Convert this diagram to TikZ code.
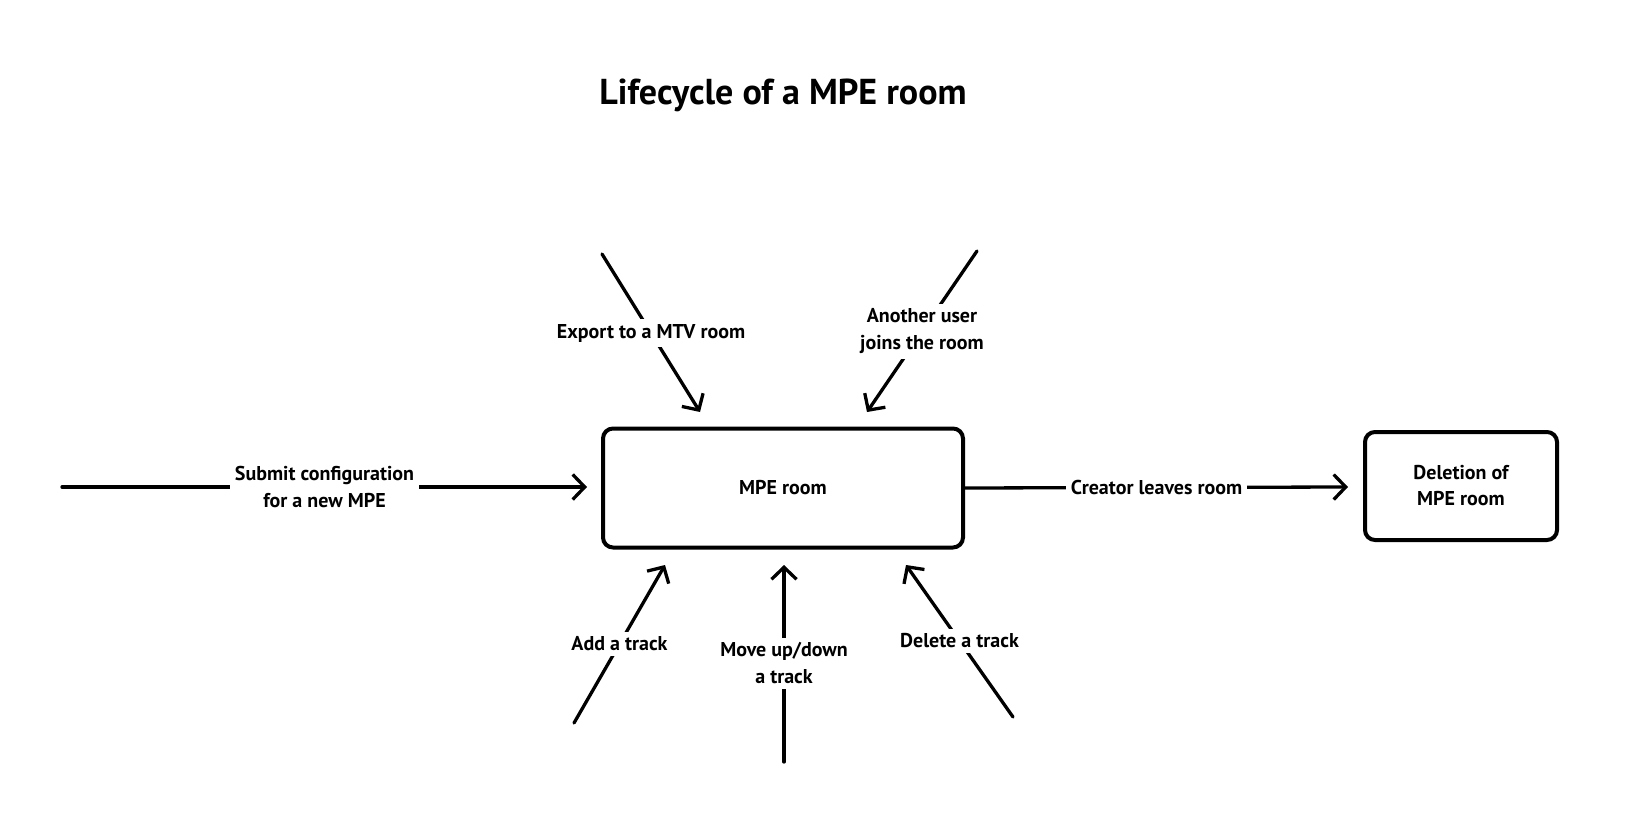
\documentclass[tikz,border=0pt]{standalone}
\usepackage{fontspec}
\setmainfont{PT Sans}
\usetikzlibrary{arrows.meta}
\begin{document}
\begin{tikzpicture}[x=1pt,y=-1pt,
  flow/.style={line width=3.3pt,line cap=round,-{Straight Barb[length=12pt,width=25pt,line width=3.3pt]}},
  room/.style={draw,line width=4pt,rounded corners=10pt,font=\bfseries\fontsize{20}{26}\selectfont,align=center},
  lbl/.style={fill=white,font=\bfseries\fontsize{20}{27}\selectfont,align=center,inner sep=5pt},
  ttl/.style={font=\bfseries\fontsize{36}{40}\selectfont}]
\useasboundingbox (0,0) rectangle (1625,826);
\node[ttl] (title) at (783,95) {Lifecycle of a MPE room};
\node[room,minimum width=360pt,minimum height=119pt] (mpe) at (783,488) {MPE room};
\node[room,minimum width=192pt,minimum height=108pt] (del) at (1461,486) {Deletion of\\MPE room};
% free ends
\coordinate (s0) at (62,487);
\coordinate (s1) at (587,487);
\coordinate (c1) at (1348,487);
\coordinate (e0) at (602,254);
\coordinate (e1) at (700,412);
\coordinate (a0) at (977,251);
\coordinate (a1) at (867,412);
\coordinate (t0) at (574,723);
\coordinate (t1) at (665,565);
\coordinate (m0) at (784,762);
\coordinate (m1) at (784,565);
\coordinate (d0) at (1013,717);
\coordinate (d1) at (906,565);
\draw[flow] (s0) -- node[lbl] {Submit configuration\\for a new MPE} (s1);
\draw[flow] (mpe.east) -- node[lbl] {Creator leaves room} (c1);
\draw[flow] (e0) -- node[lbl] {Export to a MTV room} (e1);
\draw[flow] (a0) -- node[lbl] {Another user\\joins the room} (a1);
\draw[flow] (t0) -- node[lbl] {Add a track} (t1);
\draw[flow] (m0) -- node[lbl] {Move up/down\\a track} (m1);
\draw[flow] (d0) -- node[lbl] {Delete a track} (d1);
\end{tikzpicture}
\end{document}
